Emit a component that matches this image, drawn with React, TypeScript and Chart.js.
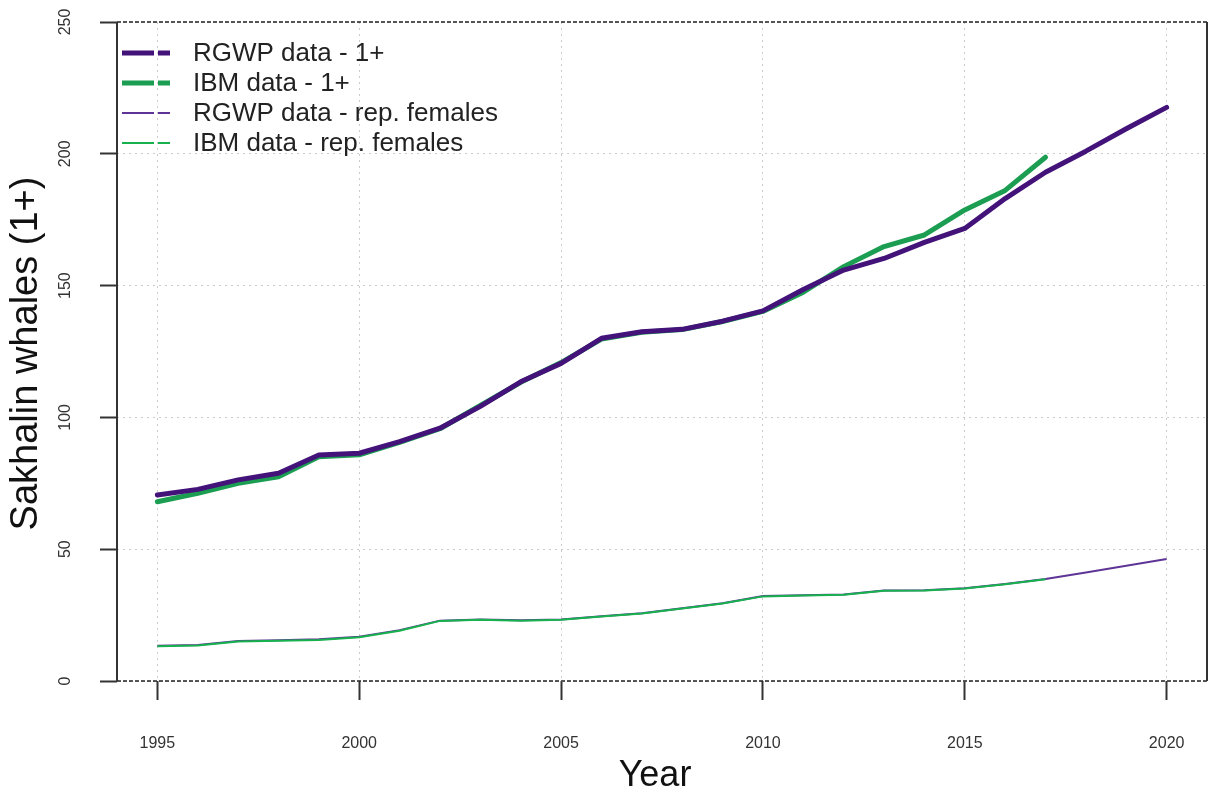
import React, { useEffect, useRef } from "react";
import { Chart, registerables } from "chart.js";

Chart.register(...registerables);

const years = [1995, 1996, 1997, 1998, 1999, 2000, 2001, 2002, 2003, 2004, 2005, 2006, 2007, 2008, 2009, 2010, 2011, 2012, 2013, 2014, 2015, 2016, 2017, 2018, 2019, 2020];
const rgwpAll = [70.6, 72.7, 76.3, 78.8, 85.7, 86.4, 90.8, 95.9, 104.2, 113.5, 120.5, 130.0, 132.5, 133.4, 136.5, 140.4, 148.5, 155.9, 160.3, 166.4, 171.7, 183.0, 193.0, 201.0, 209.5, 217.6];
const ibmAll = [68.0, 71.2, 75.0, 77.5, 85.1, 85.8, 90.5, 95.7, 104.5, 113.3, 120.8, 129.7, 132.3, 133.3, 136.4, 140.2, 147.5, 157.2, 164.8, 169.2, 178.7, 186.1, 198.7];
const rgwpFem = [13.4, 13.7, 15.2, 15.5, 15.8, 16.8, 19.3, 22.9, 23.3, 23.0, 23.3, 24.6, 25.7, 27.6, 29.5, 32.2, 32.5, 32.8, 34.3, 34.4, 35.2, 36.8, 38.7, 41.2, 43.7, 46.3];
const ibmFem = [13.2, 13.5, 15.0, 15.3, 15.6, 16.6, 19.1, 22.8, 23.2, 22.9, 23.2, 24.5, 25.6, 27.5, 29.4, 32.1, 32.4, 32.7, 34.2, 34.3, 35.1, 36.7, 38.6];

const xTicks = [1995, 2000, 2005, 2010, 2015, 2020];
const yTicks = [0, 50, 100, 150, 200, 250];

const legendLabels = ["RGWP data - 1+", "IBM data - 1+", "RGWP data - rep. females", "IBM data - rep. females"];

const FONT = '"Liberation Sans", Arial, sans-serif';
const PURPLE = "#43137a";
const GREEN = "#1c9e52";
const PURPLE_THIN = "#5e3596";
const GREEN_THIN = "#17b14e";

const legendColors = [PURPLE, GREEN, PURPLE_THIN, GREEN_THIN];
const legendWidths = [5, 5, 2, 2];

const toPts = (vals: number[]) => vals.map((v, i) => ({ x: years[i], y: v }));

const overlay = {
  id: "overlay",
  afterDraw(chart: any) {
    const { ctx, chartArea, scales } = chart;
    const { left, right, top, bottom } = chartArea;
    ctx.save();
    // box
    ctx.strokeStyle = "#222";
    ctx.lineWidth = 1.5;
    ctx.setLineDash([4, 2]);
    ctx.beginPath();
    ctx.moveTo(left, top);
    ctx.lineTo(right, top);
    ctx.moveTo(left, bottom);
    ctx.lineTo(right, bottom);
    ctx.stroke();
    ctx.setLineDash([]);
    ctx.lineWidth = 2;
    ctx.strokeStyle = "#333";
    ctx.beginPath();
    ctx.moveTo(left, top);
    ctx.lineTo(left, bottom);
    ctx.moveTo(right, top);
    ctx.lineTo(right, bottom);
    ctx.stroke();

    // y tick labels (rotated)
    ctx.fillStyle = "#333";
    ctx.font = `16px ${FONT}`;
    ctx.textAlign = "center";
    ctx.textBaseline = "middle";
    for (const v of yTicks) {
      const py = scales.y.getPixelForValue(v);
      ctx.save();
      ctx.translate(66, py);
      ctx.rotate(-Math.PI / 2);
      ctx.fillText(String(v), 0, 0);
      ctx.restore();
    }

    // axis titles
    ctx.fillStyle = "#111";
    ctx.font = `38px ${FONT}`;
    ctx.save();
    ctx.translate(27, (top + bottom) / 2 + 2);
    ctx.rotate(-Math.PI / 2);
    ctx.fillText("Sakhalin whales (1+)", 0, 0);
    ctx.restore();
    ctx.font = `36px ${FONT}`;
    ctx.fillText("Year", 655, 776);

    // legend
    const rows = [53, 83, 113, 143];
    ctx.font = `26px ${FONT}`;
    ctx.textAlign = "left";
    for (let i = 0; i < legendLabels.length; i++) {
      ctx.strokeStyle = legendColors[i];
      ctx.lineWidth = legendWidths[i];
      ctx.beginPath();
      ctx.moveTo(122, rows[i]);
      ctx.lineTo(154, rows[i]);
      ctx.moveTo(158, rows[i]);
      ctx.lineTo(170, rows[i]);
      ctx.stroke();
      ctx.fillStyle = "#222";
      ctx.fillText(legendLabels[i], 193, rows[i] + 1);
    }
    ctx.restore();
  },
};

export default function App() {
  const ref = useRef<HTMLCanvasElement | null>(null);
  useEffect(() => {
    document.body.style.margin = "0";
    const canvas = ref.current!;
    const chart = new Chart(canvas, {
      type: "line",
      data: {
        datasets: [
          { label: legendLabels[0], data: toPts(rgwpAll), borderColor: PURPLE, borderWidth: 5, pointRadius: 0, tension: 0, order: 0, borderJoinStyle: "round", borderCapStyle: "round" },
          { label: legendLabels[1], data: toPts(ibmAll), borderColor: GREEN, borderWidth: 5, pointRadius: 0, tension: 0, order: 1, borderJoinStyle: "round", borderCapStyle: "round" },
          { label: legendLabels[2], data: toPts(rgwpFem), borderColor: PURPLE_THIN, borderWidth: 2, pointRadius: 0, tension: 0, order: 3 },
          { label: legendLabels[3], data: toPts(ibmFem), borderColor: GREEN_THIN, borderWidth: 2, pointRadius: 0, tension: 0, order: 2 },
        ],
      } as any,
      options: {
        animation: false,
        responsive: false,
        devicePixelRatio: 1,
        layout: { padding: { left: 0, top: 22, right: 4, bottom: 0 } },
        plugins: { legend: { display: false }, tooltip: { enabled: false } },
        scales: {
          x: {
            type: "linear",
            min: 1994,
            max: 2021,
            afterBuildTicks: (s: any) => {
              s.ticks = xTicks.map((v) => ({ value: v }));
            },
            afterFit: (s: any) => {
              s.height = 113;
              s.paddingLeft = 0;
              s.paddingRight = 0;
            },
            ticks: {
              autoSkip: false,
              maxRotation: 0,
              minRotation: 0,
              padding: 34,
              color: "#333",
              font: { size: 16, family: FONT },
              callback: (v: any) => String(v),
            },
            grid: { color: "#cccccc", lineWidth: 1, tickLength: 19, tickColor: "#333", tickWidth: 2 },
            border: { display: false, dash: [2, 4] },
          },
          y: {
            type: "linear",
            min: 0,
            max: 250,
            afterBuildTicks: (s: any) => {
              s.ticks = yTicks.map((v) => ({ value: v }));
            },
            afterFit: (s: any) => {
              s.width = 117;
              s.paddingTop = 0;
              s.paddingBottom = 0;
            },
            ticks: { display: false },
            grid: { color: "#cccccc", lineWidth: 1, tickLength: 17, tickColor: "#333", tickWidth: 2 },
            border: { display: false, dash: [2, 4] },
          },
        },
      } as any,
      plugins: [overlay],
    });
    return () => chart.destroy();
  }, []);
  return <canvas ref={ref} width={1211} height={794} style={{ display: "block", width: 1211, height: 794 }} />;
}
